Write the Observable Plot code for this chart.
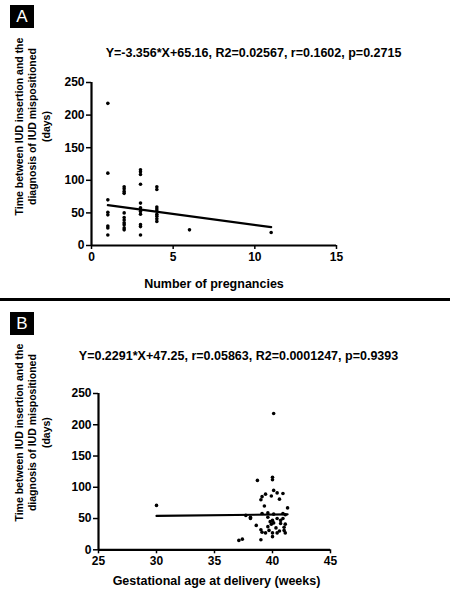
<!DOCTYPE html>
<html><head><meta charset="utf-8">
<script src="https://cdn.jsdelivr.net/npm/d3@7"></script>
<script src="https://cdn.jsdelivr.net/npm/@observablehq/plot@0.6"></script>
<style>
body{margin:0;background:#fff;font-family:"Liberation Sans",Arial,sans-serif;}
#wrap{position:relative;width:450px;height:600px;overflow:hidden;background:#fff;}
.panel{position:absolute;left:0;}
.tag{position:absolute;left:10px;width:24px;height:23px;background:#000;color:#fff;font:17px "Liberation Sans",Arial,sans-serif;display:flex;align-items:center;justify-content:center;}
#sep{position:absolute;left:0;top:298px;width:450px;height:3px;background:#000;}
</style></head><body>
<div id="wrap">
 <div class="panel" id="pA" style="top:0"></div>
 <div id="sep"></div>
 <div class="panel" id="pB" style="top:301px"></div>
 <div class="tag" style="top:5px">A</div>
 <div class="tag" style="top:312px">B</div>
</div>
<script>
// ---------- Panel A data ----------
const pregnancies = [1,1,1,1,1,1,1,1, 2,2,2,2,2,2,2,2,2,2,2, 3,3,3,3,3,3,3,3,3,3,3,3, 4,4,4,4,4,4,4,4,4, 6, 11];
const daysA = [218,111,70,51,47,30,27,16, 90,87,83,80,50,43,39,35,32,27,24, 116,113,109,94,65,58,55,52,48,32,29,16, 90,86,59,56,53,48,45,41,37, 24, 20];
const slopeA = -3.356, interceptA = 65.16;
const titleA = "Y=-3.356*X+65.16, R2=0.02567, r=0.1602, p=0.2715";
const xLabelA = "Number of pregnancies";
const xTicksA = [0,5,10,15];

// ---------- Panel B data ----------
const gestWeeks = [30, 37.1,37.4, 37.7,38.1,38.1, 38.6, 38.7, 39.0,39.1,39.4,39.3, 39.0,39.1,39.4,39.0, 39.1,39.6,39.6,39.6,39.7,
  40.0,40.0,40.1,40.1,39.9, 40.0,40.1,39.9,40.0,40.0,40.1, 40.4,40.6,40.9, 40.4,40.7,40.9,40.7,40.4, 40.9,41.1, 41.3, 41.1,41.0,41.0,41.1, 40.3,39.8,40.6];
const daysB = [71, 15,17, 55,52,50, 39, 111, 80,85,89,70, 32,28,27,16, 58,59,52,37,31,
  116,112,218,95,86, 47,43,41,27,21,57, 91,81,90, 50,47,50,42,27, 58,56, 67, 41,36,31,27, 35,45,30];
const slopeB = 0.2291, interceptB = 47.25;
const titleB = "Y=0.2291*X+47.25, r=0.05863, R2=0.0001247, p=0.9393";
const xLabelB = "Gestational age at delivery (weeks)";
const xTicksB = [25,30,35,40,45];

const yTicks = [0,50,100,150,200,250];
const yLabel = "Time between IUD insertion and the\ndiagnosis of IUD mispositioned\n(days)";

function panel(o) {
  const pts = d3.zip(o.xs, o.ys).map(([x, y]) => ({x, y}));
  const ext = d3.extent(o.xs);
  const fit = ext.map(x => ({x, y: o.slope * x + o.intercept}));
  return Plot.plot({
    width: 450, height: o.height,
    marginLeft: o.ml, marginRight: o.mr, marginTop: o.mt, marginBottom: o.mb,
    style: {fontFamily: '"Liberation Sans", Arial, sans-serif', fontWeight: "bold", fontSize: "12px", color: "#000", background: "#fff"},
    x: {domain: o.xDomain},
    y: {domain: [0, 250]},
    marks: [
      Plot.axisX({ticks: o.xTicks, tickSize: 4, tickPadding: 3, fontSize: 12, fontWeight: "bold", strokeWidth: 1.5, label: null}),
      Plot.axisY({ticks: yTicks, tickSize: 5, tickPadding: 2, fontSize: 12, fontWeight: "bold", strokeWidth: 1.5, label: null}),
      Plot.ruleX([o.xDomain[0]], {strokeWidth: 2.2}),
      Plot.ruleY([0], {strokeWidth: 2.2}),
      Plot.dot(pts, {x: "x", y: "y", r: 1.8, fill: "#000", stroke: null}),
      Plot.line(fit, {x: "x", y: "y", stroke: "#000", strokeWidth: 2.2}),
      Plot.text([o.title], {text: d => d, frameAnchor: "top", dx: o.tdx, dy: o.tdy, fontSize: 12.5, fontWeight: "bold", lineAnchor: "middle"}),
      Plot.text([o.xLabel], {text: d => d, frameAnchor: "bottom", dx: o.xldx, dy: o.xldy, fontSize: 12.5, fontWeight: "bold", lineAnchor: "middle"}),
      Plot.text([yLabel], {text: d => d, frameAnchor: "left", rotate: -90, dx: o.yldx, dy: o.yldy, fontSize: 10.5, fontWeight: "bold", lineHeight: 1.3, lineAnchor: "middle", textAnchor: "middle"})
    ]
  });
}

document.getElementById("pA").append(panel({
  xs: pregnancies, ys: daysA, slope: slopeA, intercept: interceptA,
  xDomain: [0, 15], xTicks: xTicksA, title: titleA, xLabel: xLabelA,
  height: 298, ml: 91, mr: 114, mt: 82, mb: 53,
  tdx: 39.5, tdy: -30, xldx: 0, xldy: 38, yldx: -59.5, yldy: -37.5
}));

document.getElementById("pB").append(panel({
  xs: gestWeeks, ys: daysB, slope: slopeB, intercept: interceptB,
  xDomain: [25, 45], xTicks: xTicksB, title: titleB, xLabel: xLabelB,
  height: 299, ml: 98, mr: 120, mt: 92, mb: 50.7,
  tdx: 24, tdy: -38, xldx: 2, xldy: 31, yldx: -66.5, yldy: -39
}));
</script>
</body></html>
